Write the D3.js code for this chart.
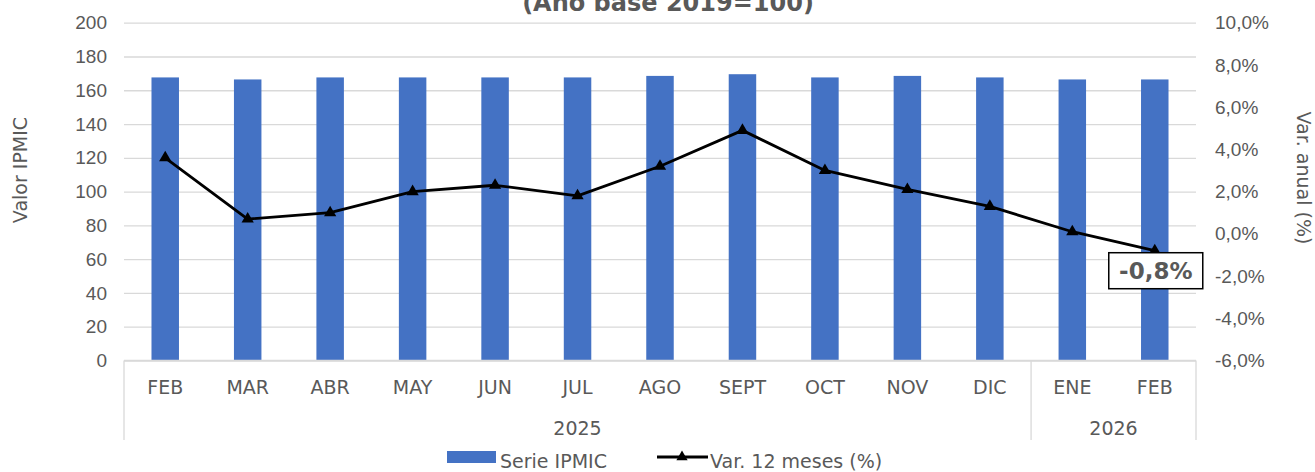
<!DOCTYPE html>
<html>
<head>
<meta charset="utf-8">
<script src="https://cdn.jsdelivr.net/npm/d3@7"></script>
<style>
  body { margin: 0; background: #fff; }
  svg { display: block; font-family: "DejaVu Sans", Verdana, sans-serif; }
  .tick text { fill: #595959; font-size: 19px; }
  .grid line { stroke: #d9d9d9; stroke-width: 1.3; }
  .label { fill: #595959; font-size: 19px; }
</style>
</head>
<body>
<svg id="chart" width="1315" height="472"></svg>
<script>
// months on the x axis, with their year group
const months = ['FEB', 'MAR', 'ABR', 'MAY', 'JUN', 'JUL', 'AGO', 'SEPT', 'OCT', 'NOV', 'DIC', 'ENE', 'FEB'];
const years = ['2025', '2025', '2025', '2025', '2025', '2025', '2025', '2025', '2025', '2025', '2025', '2026', '2026'];
// IPMIC index value (left axis)
const ipmic = [167.6, 166.4, 167.6, 167.6, 167.6, 167.6, 168.5, 169.5, 167.6, 168.5, 167.6, 166.4, 166.4];
// 12 month variation in % (right axis)
const varAnual = [3.6, 0.7, 1.0, 2.0, 2.3, 1.8, 3.2, 4.9, 3.0, 2.1, 1.3, 0.1, -0.8];
const leftTicks = [0, 20, 40, 60, 80, 100, 120, 140, 160, 180, 200];
const rightTicks = [-6, -4, -2, 0, 2, 4, 6, 8, 10];

const svg = d3.select('#chart');
const plotLeft = 124, plotRight = 1196, plotTop = 22.7, plotBottom = 360.5;

const locale = d3.formatLocale({ decimal: ',', thousands: '.', grouping: [3], currency: ['', ''], minus: '-' });
const pct = (d) => locale.format('.1f')(d) + '%';

const xScale = d3.scaleBand()
  .domain(d3.range(months.length))
  .range([plotLeft, plotRight])
  .padding(0);

const yLeft = d3.scaleLinear().domain([0, 200]).range([plotBottom, plotTop]);
const yRight = d3.scaleLinear().domain([-6, 10]).range([plotBottom, plotTop]);

// title, mostly cut off at the top
svg.append('text')
  .attr('x', 668)
  .attr('y', 11)
  .attr('text-anchor', 'middle')
  .attr('fill', '#595959')
  .attr('font-weight', 'bold')
  .attr('font-size', 24)
  .text('(Año base 2019=100)');

// horizontal grid lines
svg.append('g')
  .attr('class', 'grid')
  .attr('transform', `translate(${plotLeft}, 0)`)
  .call(d3.axisLeft(yLeft).tickValues(leftTicks).tickSize(-(plotRight - plotLeft)).tickFormat(''))
  .call((g) => g.select('.domain').remove());

// left axis
svg.append('g')
  .attr('transform', `translate(${plotLeft}, 0)`)
  .call(d3.axisLeft(yLeft).tickValues(leftTicks).tickSize(0).tickPadding(17))
  .call((g) => g.select('.domain').remove());

// right axis
svg.append('g')
  .attr('transform', `translate(${plotRight}, 0)`)
  .call(d3.axisRight(yRight).tickValues(rightTicks).tickSize(0).tickPadding(19).tickFormat(pct))
  .call((g) => g.select('.domain').remove());

// bars
const barW = xScale.bandwidth() / 3;
svg.append('g')
  .selectAll('rect')
  .data(ipmic)
  .enter()
  .append('rect')
  .attr('x', (d, i) => xScale(i) + xScale.bandwidth() / 2 - barW / 2)
  .attr('y', (d) => yLeft(d))
  .attr('width', barW)
  .attr('height', (d) => plotBottom - yLeft(d))
  .attr('fill', '#4472c4');

// category axis: box lines, month and year labels
const catAxis = svg.append('g');
catAxis.append('line')
  .attr('x1', plotLeft).attr('x2', plotRight)
  .attr('y1', plotBottom).attr('y2', plotBottom)
  .attr('stroke', '#d9d9d9').attr('stroke-width', 1.3);

const yearGroups = d3.groups(d3.range(years.length), (i) => years[i]);
const bounds = [plotLeft].concat(yearGroups.map((g) => xScale(g[1][g[1].length - 1]) + xScale.bandwidth()));
catAxis.selectAll('.sep')
  .data(bounds)
  .enter()
  .append('line')
  .attr('x1', (d) => d).attr('x2', (d) => d)
  .attr('y1', plotBottom).attr('y2', 440)
  .attr('stroke', '#d9d9d9').attr('stroke-width', 1.3);

catAxis.selectAll('.month')
  .data(months)
  .enter()
  .append('text')
  .attr('class', 'label')
  .attr('x', (d, i) => xScale(i) + xScale.bandwidth() / 2)
  .attr('y', 394)
  .attr('text-anchor', 'middle')
  .text((d) => d);

catAxis.selectAll('.year')
  .data(yearGroups)
  .enter()
  .append('text')
  .attr('class', 'label')
  .attr('x', (g) => (xScale(g[1][0]) + xScale(g[1][g[1].length - 1]) + xScale.bandwidth()) / 2)
  .attr('y', 435)
  .attr('text-anchor', 'middle')
  .text((g) => g[0]);

// variation line with triangle markers
const line = d3.line()
  .x((d, i) => xScale(i) + xScale.bandwidth() / 2)
  .y((d) => yRight(d));

svg.append('path')
  .datum(varAnual)
  .attr('d', line)
  .attr('fill', 'none')
  .attr('stroke', '#000')
  .attr('stroke-width', 2.8)
  .attr('stroke-linejoin', 'round');

svg.append('g')
  .selectAll('path')
  .data(varAnual)
  .enter()
  .append('path')
  .attr('d', d3.symbol().type(d3.symbolTriangle).size(65))
  .attr('transform', (d, i) => `translate(${xScale(i) + xScale.bandwidth() / 2}, ${yRight(d)})`)
  .attr('fill', '#000');

// data label on the last point
const lastI = varAnual.length - 1;
const lx = xScale(lastI) + xScale.bandwidth() / 2;
const ly = yRight(varAnual[lastI]);
svg.append('rect')
  .attr('x', lx - 46)
  .attr('y', ly + 2)
  .attr('width', 94)
  .attr('height', 36)
  .attr('fill', '#fff')
  .attr('stroke', '#000')
  .attr('stroke-width', 1.5);
svg.append('text')
  .attr('x', lx + 1)
  .attr('y', ly + 28)
  .attr('text-anchor', 'middle')
  .attr('fill', '#595959')
  .attr('font-weight', 'bold')
  .attr('font-size', 23)
  .text(pct(varAnual[lastI]));

// axis titles
svg.append('text')
  .attr('class', 'label')
  .attr('transform', 'translate(27, 170) rotate(-90)')
  .attr('text-anchor', 'middle')
  .text('Valor IPMIC');

svg.append('text')
  .attr('class', 'label')
  .attr('transform', 'translate(1297, 178) rotate(90)')
  .attr('text-anchor', 'middle')
  .text('Var. anual (%)');

// legend
const legend = svg.append('g');
legend.append('rect')
  .attr('x', 447).attr('y', 451)
  .attr('width', 49).attr('height', 12)
  .attr('fill', '#4472c4');
legend.append('text')
  .attr('class', 'label')
  .attr('x', 500).attr('y', 468)
  .text('Serie IPMIC');
legend.append('line')
  .attr('x1', 657).attr('x2', 708)
  .attr('y1', 457).attr('y2', 457)
  .attr('stroke', '#000').attr('stroke-width', 2.8);
legend.append('path')
  .attr('d', d3.symbol().type(d3.symbolTriangle).size(55))
  .attr('transform', 'translate(682, 457)')
  .attr('fill', '#000');
legend.append('text')
  .attr('class', 'label')
  .attr('x', 710).attr('y', 468)
  .text('Var. 12 meses (%)');
</script>
</body>
</html>
